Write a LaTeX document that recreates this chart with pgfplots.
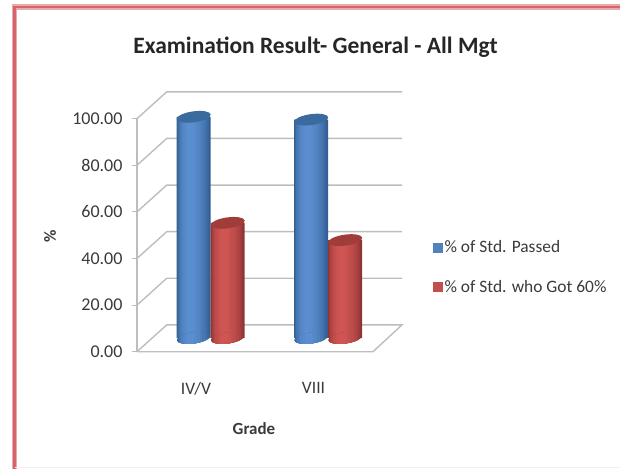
\documentclass[border=0pt]{standalone}
\usepackage{fontspec}
\setmainfont{Carlito}
\usepackage{pgfplots}
\usepackage{pgfplotstable}
\pgfplotsset{compat=1.18}

\definecolor{blueL}{HTML}{5A8ECF}
\definecolor{blueD}{HTML}{335F94}
\definecolor{blueT}{HTML}{3A6A9E}
\definecolor{blueK}{HTML}{4F81BD}
\definecolor{redL}{HTML}{CF5553}
\definecolor{redD}{HTML}{8F3533}
\definecolor{redT}{HTML}{A03C3A}
\definecolor{redK}{HTML}{C0504D}
\definecolor{gridc}{HTML}{BDBDBD}
\definecolor{framec}{HTML}{D4666A}
\definecolor{txt}{HTML}{3A3A3A}

\pgfplotstableread{
x       y     base
-0.1447 94.9  0
0.8553  93.7  0
}\passedtab
\pgfplotstableread{
x       y     base
0.1447  49.4  0
1.1447  42.0  0
}\sixtytab

% nested strips that fake the cylinder shading: width, shift, % of light colour
\newcommand\cylbands[1]{%
  #1{34}{0}{0}#1{31}{-0.5}{20}#1{28}{-1}{40}#1{25}{-1.5}{55}%
  #1{21}{-2}{70}#1{17}{-2.5}{82}#1{12}{-3}{92}#1{7}{-3}{100}}

% cylinder ends, tilted ellipses
\newcommand\cylpath{\pgfpathellipse{\pgfpointorigin}{\pgfqpoint{17pt}{2.4pt}}{\pgfqpoint{-0.8pt}{5.4pt}}}
\pgfdeclareplotmark{cyltop}{\cylpath\pgfusepathqfill}
\newcommand\markband[3]{%
  \pgfsetfillcolor{\cylL!#3!\cylD}%
  \pgfpathrectangle{\pgfpoint{#2pt-#1pt/2}{-9pt}}{\pgfpoint{#1pt}{18pt}}\pgfusepathqfill}
\pgfdeclareplotmark{bluebot}{\begin{pgfscope}\cylpath\pgfusepath{clip}%
  \def\cylL{blueL}\def\cylD{blueD}\cylbands\markband\end{pgfscope}}
\pgfdeclareplotmark{redbot}{\begin{pgfscope}\cylpath\pgfusepath{clip}%
  \def\cylL{redL}\def\cylD{redD}\cylbands\markband\end{pgfscope}}

\newcommand\blueband[3]{\addplot[ybar,bar width=#1pt,bar shift=#2pt,draw=none,fill=blueL!#3!blueD,forget plot] table[x=x,y=y] {\passedtab};}
\newcommand\redband[3]{\addplot[ybar,bar width=#1pt,bar shift=#2pt,draw=none,fill=redL!#3!redD,forget plot] table[x=x,y=y] {\sixtytab};}

\begin{document}
\begin{tikzpicture}[x=1pt,y=1pt]
  \path[use as bounding box] (0,0) rectangle (620,468);
  \draw[framec!55,line width=5.5pt] (14.5,-3) -- (14.5,461) -- (623,461);
  \draw[framec,line width=2.5pt] (14.5,-3) -- (14.5,461) -- (623,461);
  \draw[framec!12,line width=1pt] (14.5,1) -- (620,1);
  \node[font=\bfseries\fontsize{23.5}{28}\selectfont,text=black!85] at (315.5,421) {Examination Result- General - All Mgt};
  \begin{axis}[
    at={(137pt,116.3pt)}, anchor=south west,
    scale only axis, width=265pt, height=259.4pt,
    clip=false,
    xmin=-0.627, xmax=1.628, ymin=-5.88, ymax=105.42,
    axis x line*=bottom, axis y line*=left,
    axis line style={draw=none, -},
    xtick={-0.125,0.875}, xticklabels={IV/V,VIII},
    % the floor lifts the bars, so the front scale sits 5.88 below the data zero
    ytick={-5.88,14.12,34.12,54.12,74.12,94.12},
    yticklabels={0.00,20.00,40.00,60.00,80.00,100.00},
    major tick length=5pt,
    tick align=outside,
    ytick style={draw=gridc,line width=1pt},
    xtick style={draw=none},
    ticklabel style={font=\fontsize{18}{21}\selectfont,text=txt},
    yticklabel style={xshift=-6pt},
    xticklabel style={yshift=-22pt,font=\fontsize{17.5}{21}\selectfont},
    xlabel={\textbf{Grade}}, xlabel style={at={(axis description cs:0.4415,-0.298)},anchor=center,font=\fontsize{17}{20}\selectfont,text=txt},
    ylabel={\textbf{\%}}, ylabel style={at={(axis description cs:-0.328,0.446)},anchor=center,font=\fontsize{17}{20}\selectfont,text=txt},
    legend cell align=left,
    legend style={at={(296pt,84.7pt)},anchor=west,draw=none,fill=none,
      font=\fontsize{17.4}{21}\selectfont,text=txt,row sep=22pt,inner sep=0pt},
  ]
  % back wall and floor
  \addplot[gridc,line width=1.4pt,forget plot] coordinates {(-0.627,-5.88) (-0.374,5.62) (1.628,5.62) (1.381,-5.88) (-0.627,-5.88)};
  \addplot[gridc,line width=1.4pt,forget plot] coordinates {(-0.627,-5.88) (-0.627,94.12)};
  \addplot[gridc,line width=1.4pt,forget plot] coordinates {(-0.627,14.12) (-0.374,25.62) (1.628,25.62)};
  \addplot[gridc,line width=1.4pt,forget plot] coordinates {(-0.627,34.12) (-0.374,45.62) (1.628,45.62)};
  \addplot[gridc,line width=1.4pt,forget plot] coordinates {(-0.627,54.12) (-0.374,65.62) (1.628,65.62)};
  \addplot[gridc,line width=1.4pt,forget plot] coordinates {(-0.627,74.12) (-0.374,85.62) (1.628,85.62)};
  \addplot[gridc,line width=1.4pt,forget plot] coordinates {(-0.627,94.12) (-0.374,105.62) (1.628,105.62)};
  % blue series
  \cylbands\blueband
  \addplot[only marks,mark=bluebot,forget plot] table[x=x,y=base] {\passedtab};
  \addplot[only marks,mark=cyltop,mark options={fill=blueT,draw=none},forget plot] table[x=x,y=y] {\passedtab};
  % red series
  \cylbands\redband
  \addplot[only marks,mark=redbot,forget plot] table[x=x,y=base] {\sixtytab};
  \addplot[only marks,mark=cyltop,mark options={fill=redT,draw=none},forget plot] table[x=x,y=y] {\sixtytab};
  % legend
  \addlegendimage{legend image code/.code={\fill[blueK] (0pt,-4.5pt) rectangle (9pt,4.5pt);}}
  \addlegendentry{\% of Std. Passed}
  \addlegendimage{legend image code/.code={\fill[redK] (0pt,-4.5pt) rectangle (9pt,4.5pt);}}
  \addlegendentry{\% of Std. who Got 60\%}
  \end{axis}
\end{tikzpicture}
\end{document}
